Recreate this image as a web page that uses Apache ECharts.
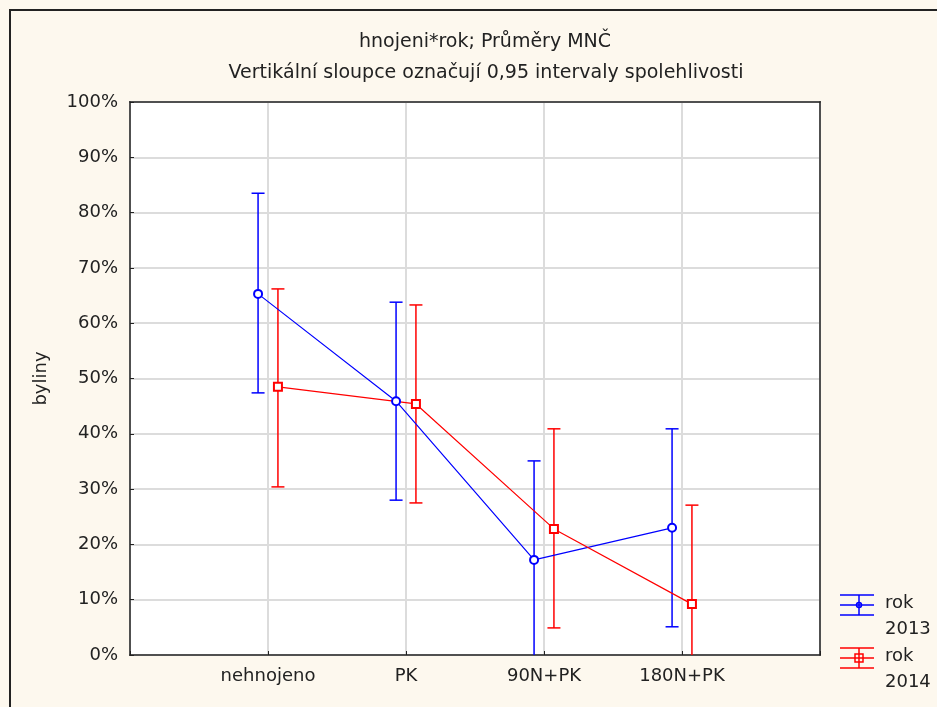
<!DOCTYPE html>
<html>
<head>
<meta charset="utf-8">
<script src="https://cdn.jsdelivr.net/npm/echarts@6/dist/echarts.min.js"></script>
<style>
  html, body { margin: 0; padding: 0; background: #fdf8ee; }
  #chart { width: 937px; height: 707px; }
</style>
</head>
<body>
<div id="chart"></div>
<script>
// kategorie hnojeni
const categories = ['nehnojeno', 'PK', '90N+PK', '180N+PK']
const yTicks = [0, 10, 20, 30, 40, 50, 60, 70, 80, 90, 100]
const seriesNames = ['rok 2013', 'rok 2014']
// prumery a 0,95 intervaly (%)
const mean2013 = [65.3, 45.9, 17.2, 23.0]
const upper2013 = [83.5, 63.8, 35.1, 40.9]
const lower2013 = [47.4, 28.0, -0.7, 5.1]
const mean2014 = [48.5, 45.4, 22.8, 9.2]
const upper2014 = [66.2, 63.3, 40.9, 27.1]
const lower2014 = [30.4, 27.5, 4.9, -8.7]

const colors = ['#0000ff', '#ff0000']
const offsets = [-0.072, 0.072]
const font = 'DejaVu Sans, Verdana, sans-serif'
const fs = 18

function points (means, off) {
  return means.map((v, i) => [i + 1 + off, v])
}
function bars (low, high, off) {
  return low.map((v, i) => [i + 1 + off, v, high[i]])
}

function errorSeries (name, low, high, off, color) {
  return {
    name: name,
    type: 'custom',
    clip: true,
    z: 3,
    data: bars(low, high, off),
    renderItem (params, api) {
      const lo = api.coord([api.value(0), api.value(1)])
      const hi = api.coord([api.value(0), api.value(2)])
      const w = 6.5
      const style = { stroke: color, lineWidth: 1.5 }
      return {
        type: 'group',
        children: [
          { type: 'line', shape: { x1: lo[0], y1: lo[1], x2: hi[0], y2: hi[1] }, style },
          { type: 'line', shape: { x1: hi[0] - w, y1: hi[1], x2: hi[0] + w, y2: hi[1] }, style },
          { type: 'line', shape: { x1: lo[0] - w, y1: lo[1], x2: lo[0] + w, y2: lo[1] }, style }
        ]
      }
    }
  }
}

function legendItem (i, y, symbol) {
  const c = colors[i]
  const parts = seriesNames[i].split(' ')
  const st = { stroke: c, lineWidth: 1.5 }
  const marker = symbol === 'circle'
    ? { type: 'circle', shape: { cx: 859, cy: y, r: 2.5 }, style: { stroke: c, fill: 'none', lineWidth: 1.5 } }
    : { type: 'rect', shape: { x: 855, y: y - 4, width: 8, height: 8 }, style: { stroke: c, fill: 'none', lineWidth: 1.5 } }
  return [
    { type: 'line', shape: { x1: 840, y1: y - 10, x2: 874, y2: y - 10 }, style: st },
    { type: 'line', shape: { x1: 840, y1: y, x2: 874, y2: y }, style: st },
    { type: 'line', shape: { x1: 840, y1: y + 10, x2: 874, y2: y + 10 }, style: st },
    { type: 'line', shape: { x1: 859, y1: y - 10, x2: 859, y2: y + 10 }, style: st },
    marker,
    { type: 'text', left: 885, top: y - 11, style: { text: parts[0], font: fs + 'px ' + font, fill: '#222' } },
    { type: 'text', left: 885, top: y + 15, style: { text: parts[1], font: fs + 'px ' + font, fill: '#222' } }
  ]
}

// horni a prava hrana ramecku grafu
const frameAxis = {
  show: true,
  z: 10,
  axisLine: { show: true, onZero: false, lineStyle: { color: '#222', width: 1.5 } },
  axisTick: { show: false },
  axisLabel: { show: false },
  splitLine: { show: false }
}

const chart = echarts.init(document.getElementById('chart'))
chart.setOption({
  backgroundColor: '#fdf8ee',
  animation: false,
  title: [
    {
      text: 'hnojeni*rok; Průměry MNČ',
      left: 480,
      top: 28,
      textAlign: 'center',
      textStyle: { fontFamily: font, fontSize: 19, fontWeight: 'normal', color: '#222' }
    },
    {
      text: 'Vertikální sloupce označují 0,95 intervaly spolehlivosti',
      left: 481,
      top: 59,
      textAlign: 'center',
      textStyle: { fontFamily: font, fontSize: 19, fontWeight: 'normal', color: '#222' }
    }
  ],
  graphic: [
    {
      type: 'rect',
      z: -10,
      shape: { x: 10, y: 10, width: 940, height: 720 },
      style: { fill: '#fdf8ee', stroke: '#222', lineWidth: 2 },
      silent: true
    },
    ...legendItem(0, 605, 'circle'),
    ...legendItem(1, 658, 'rect')
  ],
  grid: {
    left: 130,
    top: 102,
    width: 690,
    height: 553,
    show: true,
    backgroundColor: '#ffffff',
    borderColor: '#222',
    borderWidth: 1.5
  },
  xAxis: [
    {
      type: 'value',
      min: 0,
      max: 5,
      interval: 1,
      axisLine: { onZero: false, lineStyle: { color: '#222', width: 1.5 } },
      axisTick: { inside: true, length: 4, lineStyle: { color: '#222' } },
      splitLine: { lineStyle: { color: '#dcdcdc', width: 2 } },
      axisLabel: {
        color: '#222',
        fontFamily: font,
        fontSize: fs,
        margin: 12,
        formatter: v => categories[v - 1] || ''
      }
    },
    Object.assign({ type: 'value', position: 'top', min: 0, max: 5 }, frameAxis)
  ],
  yAxis: [
    {
      type: 'value',
      min: yTicks[0],
      max: yTicks[yTicks.length - 1],
      interval: 10,
      name: 'byliny',
      nameLocation: 'middle',
      nameGap: 80,
      nameTextStyle: { color: '#222', fontFamily: font, fontSize: fs },
      axisLine: { onZero: false, lineStyle: { color: '#222', width: 1.5 } },
      axisTick: { inside: true, length: 4, lineStyle: { color: '#222' } },
      splitLine: { lineStyle: { color: '#dcdcdc', width: 2 } },
      axisLabel: {
        color: '#222',
        fontFamily: font,
        fontSize: fs,
        margin: 12,
        formatter: '{value}%'
      }
    },
    Object.assign({ type: 'value', position: 'right', min: 0, max: 100 }, frameAxis)
  ],
  series: [
    errorSeries(seriesNames[0], lower2013, upper2013, offsets[0], colors[0]),
    errorSeries(seriesNames[1], lower2014, upper2014, offsets[1], colors[1]),
    {
      name: seriesNames[0],
      type: 'line',
      z: 4,
      data: points(mean2013, offsets[0]),
      symbol: 'emptyCircle',
      symbolSize: 8,
      lineStyle: { color: colors[0], width: 1.2 },
      itemStyle: { color: colors[0], borderWidth: 1.5 }
    },
    {
      name: seriesNames[1],
      type: 'line',
      z: 4,
      data: points(mean2014, offsets[1]),
      symbol: 'emptyRect',
      symbolSize: 8,
      lineStyle: { color: colors[1], width: 1.2 },
      itemStyle: { color: colors[1], borderWidth: 1.5 }
    }
  ]
})
</script>
</body>
</html>
